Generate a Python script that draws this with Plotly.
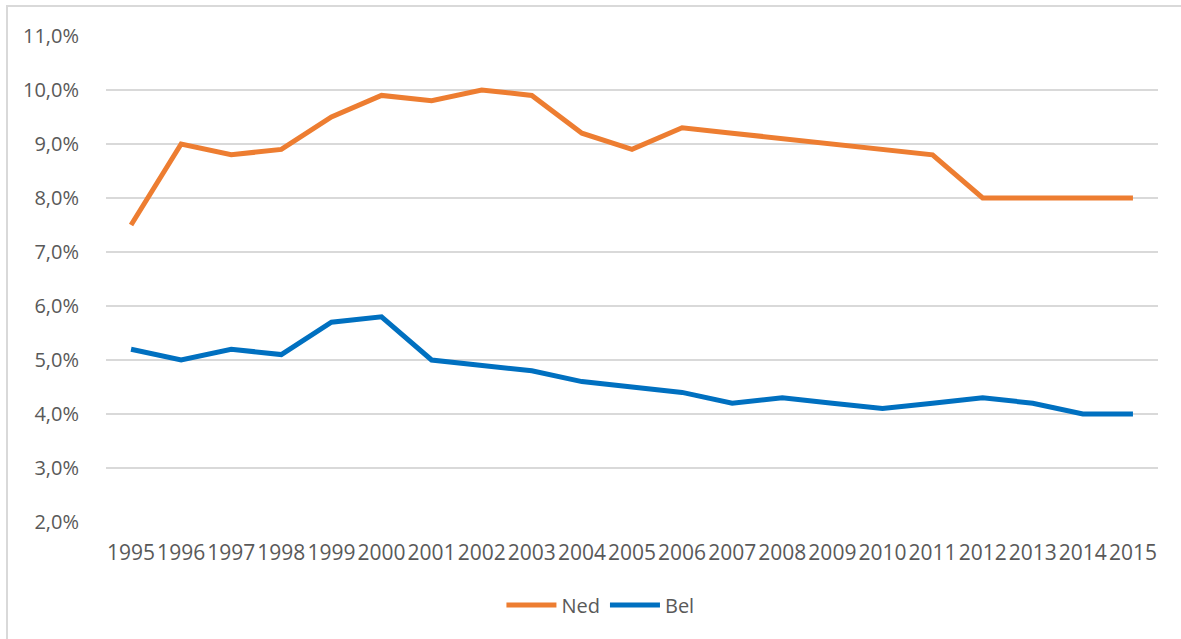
import plotly.graph_objects as go

years = [str(y) for y in range(1995, 2016)]
ned = [7.5, 9.0, 8.8, 8.9, 9.5, 9.9, 9.8, 10.0, 9.9, 9.2, 8.9, 9.3, 9.2, 9.1, 9.0, 8.9, 8.8, 8.0, 8.0, 8.0, 8.0]
bel = [5.2, 5.0, 5.2, 5.1, 5.7, 5.8, 5.0, 4.9, 4.8, 4.6, 4.5, 4.4, 4.2, 4.3, 4.2, 4.1, 4.2, 4.3, 4.2, 4.0, 4.0]
y_ticks = [2, 3, 4, 5, 6, 7, 8, 9, 10, 11]
y_labels = [f"{v},0%" for v in y_ticks]

FONT = "Open Sans"
GREY = "#595959"

fig = go.Figure()
fig.add_trace(go.Scatter(x=years, y=ned, mode="lines", name="Ned",
                         line=dict(color="#ED7D31", width=5)))
fig.add_trace(go.Scatter(x=years, y=bel, mode="lines", name="Bel",
                         line=dict(color="#0070C0", width=5)))

W, H = 1181, 639
ml, mr, mt, mb = 106, 23, 36, 117
pw, ph = W - ml - mr, H - mt - mb

def px_x(p):
    return (p - ml) / pw

def px_y(p):
    return (H - mb - p) / ph

fig.update_layout(
    width=W, height=H,
    margin=dict(l=ml, r=mr, t=mt, b=mb, autoexpand=False),
    paper_bgcolor="white", plot_bgcolor="white",
    font=dict(family=FONT, size=20, color=GREY),
    showlegend=True,
    legend=dict(orientation="h", x=0.47, xanchor="center", y=px_y(605), yanchor="middle",
                font=dict(family=FONT, size=20, color=GREY), itemwidth=50,
                bgcolor="rgba(0,0,0,0)"),
    xaxis=dict(type="category", range=[-0.5, 20.5], showgrid=False, zeroline=False,
               showline=False, ticks="outside", ticklen=12, tickcolor="rgba(0,0,0,0)",
               tickangle=0, tickfont=dict(family=FONT, size=21, color=GREY)),
    yaxis=dict(range=[2, 11], tickvals=y_ticks, ticktext=y_labels, showgrid=True,
               gridcolor="#D9D9D9", gridwidth=1.5, zeroline=False, showline=False,
               ticks="outside", ticklen=22, tickcolor="rgba(0,0,0,0)",
               tickfont=dict(family=FONT, size=20, color=GREY)),
    shapes=[dict(type="rect", xref="paper", yref="paper",
                 x0=px_x(7), x1=px_x(1200), y0=px_y(660), y1=px_y(6),
                 line=dict(color="#D9D9D9", width=2), fillcolor="rgba(0,0,0,0)",
                 layer="below")],
)

fig.write_html("out.html", config={"displayModeBar": False},
               post_script="document.body.style.margin='0';document.body.style.overflow='hidden';")
